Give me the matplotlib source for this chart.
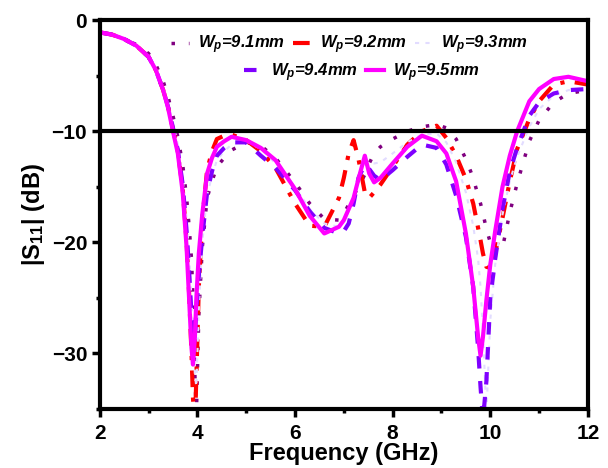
"""S11 vs frequency for different patch widths Wp"""

import matplotlib
matplotlib.use("Agg")
import matplotlib.pyplot as plt
from matplotlib.ticker import MultipleLocator

plt.rcParams['font.family'] = ['Liberation Sans', 'DejaVu Sans']
plt.rcParams['font.weight'] = 'bold'
plt.rcParams['mathtext.fontset'] = 'custom'
plt.rcParams['mathtext.it'] = 'Liberation Sans:bold:italic'
plt.rcParams['mathtext.rm'] = 'Liberation Sans:bold'
plt.rcParams['mathtext.bf'] = 'Liberation Sans:bold'

freq = [2.0, 2.25, 2.5, 2.75, 3.0, 3.15, 3.3, 3.4, 3.5, 3.6,
        3.7, 3.78, 3.83, 3.88, 3.91, 3.95, 3.98, 4.03, 4.1, 4.2,
        4.3, 4.4, 4.55, 4.7, 5.0, 5.3, 5.6, 6.0, 6.3, 6.6,
        6.9, 7.0, 7.1, 7.2, 7.3, 7.43, 7.52, 7.62, 7.75, 8.0,
        8.3, 8.6, 8.9, 9.1, 9.3, 9.5, 9.65, 9.75, 9.8, 9.85,
        9.92, 10.0, 10.1, 10.25, 10.4, 10.55, 10.8, 11.0, 11.3, 11.6,
        12.0]

s11_91 = [-1.1, -1.3, -1.7, -2.2, -3.0, -4.0, -5.5, -6.9, -8.6, -10.5,
          -13.0, -16.0, -18.5, -21.5, -25.0, -32.0, -35.5, -26.5, -20.5, -16.0,
          -14.5, -13.2, -12.4, -11.7, -11.0, -11.3, -12.4, -14.6, -16.5, -17.9,
          -18.0, -17.4, -16.6, -15.8, -15.0, -13.9, -12.9, -12.0, -11.4, -10.7,
          -10.0, -9.6, -9.4, -9.7, -10.7, -12.5, -14.2, -15.8, -16.5, -17.4,
          -18.8, -20.0, -21.0, -20.5, -17.3, -14.7, -10.9, -9.0, -7.4, -6.6,
          -6.3]

s11_92 = [-1.1, -1.3, -1.7, -2.3, -3.3, -4.5, -6.3, -7.8, -9.8, -11.8,
          -15.2, -20.0, -24.5, -30.0, -34.0, -36.5, -32.0, -24.0, -18.0, -13.5,
          -11.8, -10.7, -10.4, -10.3, -10.8, -11.8, -13.3, -16.5, -18.5, -18.6,
          -16.0, -14.2, -12.0, -10.8, -12.5, -15.5, -16.0, -15.5, -14.8, -13.2,
          -11.2, -10.0, -9.5, -10.6, -12.2, -14.3, -16.5, -18.7, -19.8, -21.0,
          -22.2, -22.3, -21.0, -17.8, -14.5, -11.6, -8.9, -7.3, -5.8, -5.5,
          -5.8]

s11_93 = [-1.1, -1.3, -1.7, -2.3, -3.2, -4.3, -6.0, -7.5, -9.2, -11.2,
          -14.2, -18.0, -21.0, -25.0, -28.0, -32.0, -33.0, -26.0, -20.0, -15.8,
          -14.0, -12.6, -11.8, -11.2, -10.9, -11.6, -12.9, -15.0, -17.0, -18.3,
          -18.6, -18.2, -17.2, -15.8, -14.2, -13.0, -12.8, -12.9, -12.8, -12.0,
          -11.0, -10.3, -10.2, -11.0, -12.8, -15.5, -18.5, -21.5, -24.0, -28.0,
          -35.5, -27.0, -22.0, -17.5, -14.5, -12.3, -9.6, -8.0, -6.8, -6.3,
          -6.2]

s11_94 = [-1.1, -1.3, -1.7, -2.3, -3.3, -4.5, -6.3, -7.8, -9.7, -11.7,
          -14.8, -19.0, -22.5, -26.5, -28.5, -28.5, -26.0, -23.0, -19.5, -15.5,
          -13.6, -12.2, -11.5, -11.0, -11.0, -12.2, -13.3, -15.3, -17.2, -18.7,
          -19.2, -19.0, -18.3, -16.5, -14.2, -13.0, -13.4, -14.0, -14.4, -13.5,
          -12.3, -11.2, -11.5, -13.0, -15.8, -19.5, -24.0, -29.5, -33.0, -36.0,
          -32.5, -25.0, -21.5, -17.0, -13.6, -11.5, -8.6, -7.4, -6.6, -6.3,
          -6.2]

s11_95 = [-1.1, -1.3, -1.7, -2.3, -3.3, -4.5, -6.3, -7.9, -10.0, -12.0,
          -15.5, -20.5, -25.0, -29.5, -31.0, -28.5, -25.0, -21.0, -17.5, -13.8,
          -12.4, -11.4, -10.9, -10.5, -10.8, -11.5, -12.6, -15.2, -17.6, -19.2,
          -18.6, -18.0, -17.0, -16.0, -14.3, -12.2, -13.8, -14.6, -14.2, -12.9,
          -11.4, -10.4, -10.9, -12.0, -14.5, -19.2, -24.0, -28.5, -30.2, -28.5,
          -25.2, -22.0, -19.0, -15.0, -12.2, -10.0, -7.3, -6.2, -5.3, -5.1,
          -5.5]

labels = ['$W_p$=9.1mm', '$W_p$=9.2mm', '$W_p$=9.3mm', '$W_p$=9.4mm', '$W_p$=9.5mm']

fig, ax = plt.subplots(figsize=(6.08, 4.68), dpi=100)
fig.subplots_adjust(left=0.164, right=0.967, top=0.957, bottom=0.126)

l1, = ax.plot(freq, s11_91, color='#800080', lw=2.5, ls=(0, (1, 4)))
l2, = ax.plot(freq, s11_92, color='#ff0000', lw=3, ls=(0, (4, 2.5, 1, 2.5)))
l3, = ax.plot(freq, s11_93, color='#e2dcff', lw=1.5, ls=(0, (2, 3)))
l4, = ax.plot(freq, s11_94, color='#7f00ff', lw=3, ls=(0, (3, 3)))
l5, = ax.plot(freq, s11_95, color='#ff00ff', lw=3)

ax.axhline(-10, color='black', lw=3)

ax.set_xlim(2, 12)
ax.set_ylim(-35, 0)
ax.xaxis.set_major_locator(MultipleLocator(2))
ax.xaxis.set_minor_locator(MultipleLocator(1))
ax.yaxis.set_major_locator(MultipleLocator(10))
ax.yaxis.set_minor_locator(MultipleLocator(5))
ax.tick_params(which='major', direction='out', length=6, width=2.5, labelsize=15, pad=3)
ax.tick_params(axis='x', which='major', pad=5)
ax.tick_params(which='minor', direction='out', length=3, width=2.5)
for sp in ax.spines.values():
    sp.set_linewidth(3)

ax.set_xlabel('Frequency (GHz)', fontsize=17, fontweight='bold', labelpad=-1)
ax.set_ylabel(r'|S$_{11}$| (dB)', fontsize=17, fontweight='bold', labelpad=3)

leg_kw = dict(frameon=False, prop=dict(size=12, style='italic', weight='bold'),
              handlelength=1.1, handletextpad=0.5, columnspacing=0.5,
              borderpad=0.1, loc='center')
leg1 = ax.legend([l1, l2, l3], labels[:3], ncol=3, bbox_to_anchor=(0.512, 0.936), **leg_kw)
ax.add_artist(leg1)
ax.legend([l4, l5], labels[3:], ncol=2, bbox_to_anchor=(0.537, 0.866), **leg_kw)

plt.savefig('out.png', dpi=100)
